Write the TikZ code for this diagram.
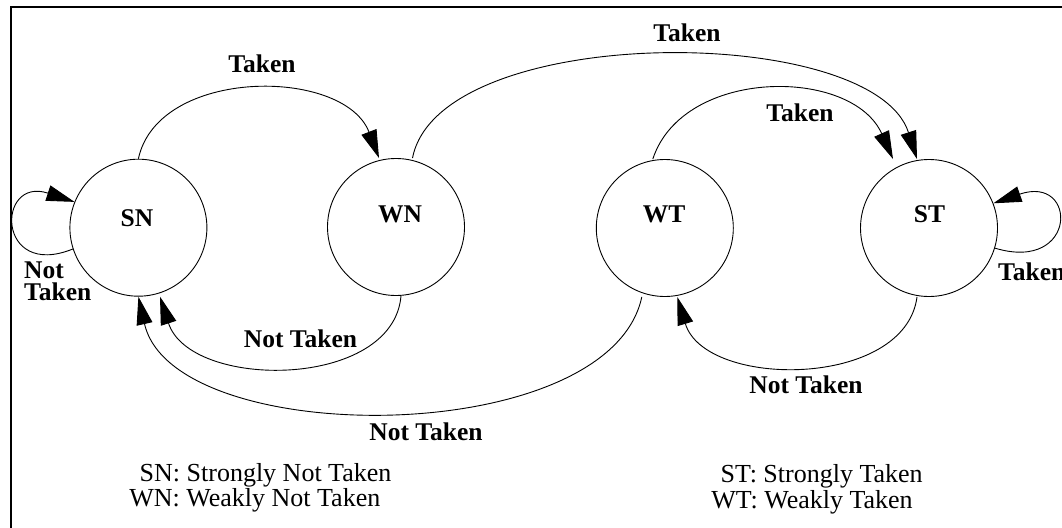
\documentclass[tikz,border=0pt]{standalone}
\usepackage{fontspec}
\setmainfont{Liberation Serif}
\usetikzlibrary{arrows.meta}
\begin{document}
\begin{tikzpicture}[x=1pt,y=-1pt,
  state/.style={circle,draw,line width=0.9pt,minimum size=137pt,inner sep=0pt},
  lbl/.style={font=\fontsize{25.5}{25.5}\selectfont\bfseries,inner sep=0pt,anchor=base},
  lbll/.style={lbl,anchor=base west},
  legend/.style={font=\fontsize{26}{26}\selectfont,inner sep=0pt,anchor=base west},
  edgearr/.style={line width=0.9pt,-{Triangle[length=28pt,width=16pt]}},
]
\useasboundingbox (0,0) rectangle (1062,527);
\clip (0,0) rectangle (1062,527);
\draw[line width=2pt] (1080,7) -- (11,7) -- (11,545);

\node[state] (SN) at (138.4,227.7) {};
\node[state] (WN) at (396,227) {};
\node[state] (WT) at (664.8,228) {};
\node[state] (ST) at (929,228) {};

\node[lbl] (SNt) at (137,226) {SN};
\node[lbl] (WNt) at (400,222) {WN};
\node[lbl] (WTt) at (664,222) {WT};
\node[lbl] (STt) at (929.5,222.5) {ST};

% Taken transitions
\draw[edgearr] (SN.north) .. controls (158,67) and (344,67) .. ([xshift=-17pt]WN.north);
\draw[edgearr] ([xshift=16.5pt]WN.north) .. controls (439,22) and (873,22) .. ([xshift=-12pt]ST.north);
\draw[edgearr] ([xshift=-12pt]WT.north) .. controls (683,67) and (852,67) .. ([xshift=-36pt]ST.north);
\draw[edgearr] (ST.-17) .. controls (1078,273) and (1078,174) .. (ST.21);

% Not Taken transitions
\draw[edgearr] ([xshift=-12pt]ST.south) .. controls (905,389) and (705,389) .. ([xshift=12.5pt]WT.south);
\draw[edgearr] ([xshift=-23pt]WT.south) .. controls (609,450) and (173,450) .. (SN.south);
\draw[edgearr] ([xshift=5pt]WN.south) .. controls (393,390) and (190,390) .. ([xshift=21.6pt]SN.south);
\draw[edgearr] (SN.198) .. controls (-4,280) and (-4,176) .. (SN.158);

% edge labels
\node[lbl] (e1) at (262,72.7) {Taken};
\node[lbl] (e2) at (687,41.7) {Taken};
\node[lbl] (e3) at (800,121.7) {Taken};
\node[lbl] (e4) at (806,393.3) {Not Taken};
\node[lbl] (e5) at (426,440) {Not Taken};
\node[lbl] (e6) at (300.5,347.3) {Not Taken};
\node[lbll] (e7a) at (24,278) {Not};
\node[lbll] (e7b) at (24,300) {Taken};
\node[lbll] (e8) at (998,280) {Taken};

% legend
\node[legend] (L1) at (139.5,481.7) {SN: Strongly Not Taken};
\node[legend] (L2) at (129.1,506.7) {WN: Weakly Not Taken};
\node[legend] (L3) at (720.5,482.3) {ST: Strongly Taken};
\node[legend] (L4) at (711.2,508.3) {WT: Weakly Taken};
\end{tikzpicture}
\end{document}
